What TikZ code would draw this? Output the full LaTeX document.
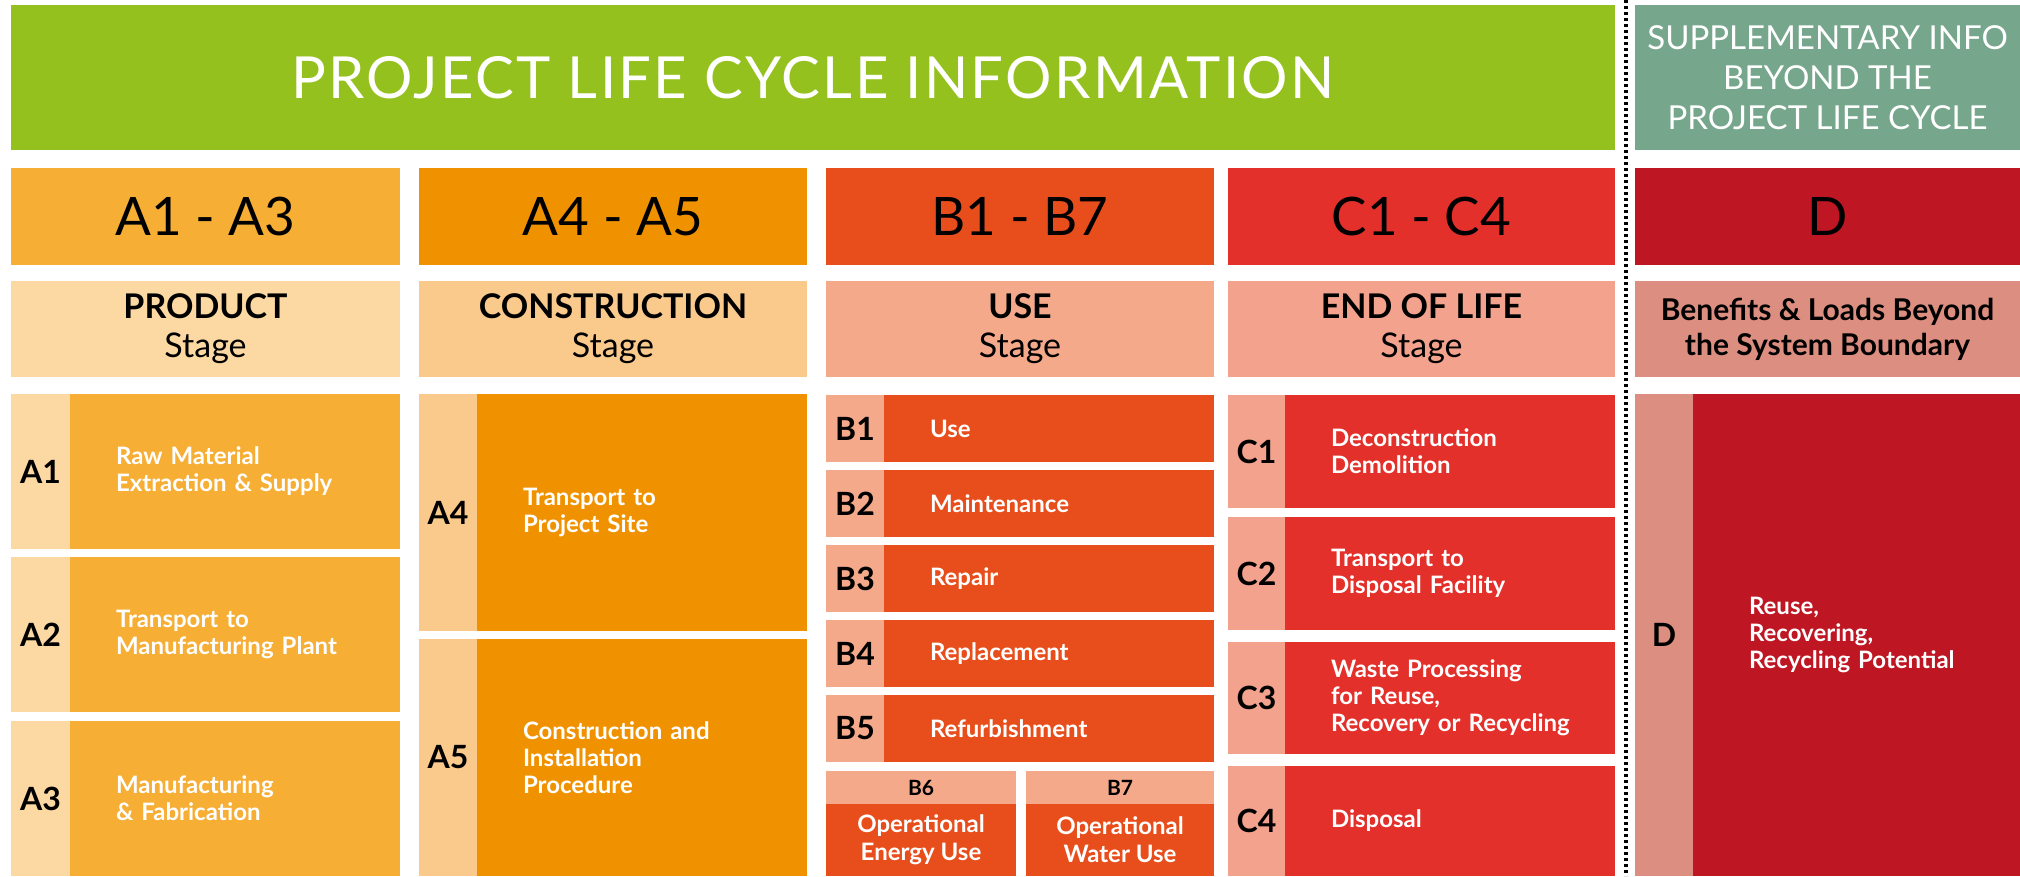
\documentclass[tikz,border=0pt]{standalone}
\usepackage{fontspec}
\setmainfont{Lato}
\usetikzlibrary{positioning}
\definecolor{lcgreen}{HTML}{95C11F}
\definecolor{suppgreen}{HTML}{76A68C}
\definecolor{prodorange}{HTML}{F6AE35}
\definecolor{prodlight}{HTML}{FCD8A2}
\definecolor{constorange}{HTML}{F09200}
\definecolor{constlight}{HTML}{FAC98C}
\definecolor{useorange}{HTML}{E84E1B}
\definecolor{uselight}{HTML}{F3A98A}
\definecolor{eolred}{HTML}{E3302A}
\definecolor{eollight}{HTML}{F2A28D}
\definecolor{bydred}{HTML}{BE1622}
\definecolor{bydlight}{HTML}{DC8E80}
\newcommand{\fsz}[2]{\fontsize{#1}{#2}\selectfont}

\begin{document}
\begin{tikzpicture}[x=1pt,y=-1pt,
    block/.style={anchor=north west,inner sep=0pt,outer sep=0pt,fill=#1},
    banner/.style={block=#1,text=white,align=center},
    head/.style={block=#1,font=\fsz{53}{60}},
    stagebox/.style={block=#1,font=\fsz{34}{39},align=center},
    code/.style={block=#1,font=\bfseries\fsz{32}{38}},
    desc/.style={block=#1,font=\bfseries\fsz{24}{27},text=white,align=left,inner xsep=46pt}]
     \fill[white] (0,0) rectangle (2020,876);
     \useasboundingbox (0,0) rectangle (2020,876);
     \node[banner=lcgreen,font=\fsz{58}{60}\addfontfeature{LetterSpace=4},minimum width=1604pt,minimum height=145pt] (plc) at (11,5) {PROJECT LIFE CYCLE INFORMATION};
     \node[banner=suppgreen,font=\fsz{33}{40},minimum width=385pt,minimum height=145pt] (supp) at (1635,5) {SUPPLEMENTARY INFO\\BEYOND THE\\PROJECT LIFE CYCLE};
     \foreach \nm/\x/\w/\dark/\light/\code/\title in {
       a/11/389/prodorange/prodlight/A1 - A3/PRODUCT,
       ac/419/388/constorange/constlight/A4 - A5/CONSTRUCTION,
       b/826/388/useorange/uselight/B1 - B7/USE,
       c/1228/387/eolred/eollight/C1 - C4/END OF LIFE}{
       \node[head=\dark,minimum width=\w pt,minimum height=97pt] (h\nm) at (\x,168) {\code};
       \node[stagebox=\light,minimum width=\w pt,minimum height=96pt] (s\nm) at (\x,281) {\textbf{\title}\\Stage};
     }
     \node[head=bydred,minimum width=385pt,minimum height=97pt] (hd) at (1635,168) {D};
     \node[stagebox=bydlight,font=\bfseries\fsz{30}{35},minimum width=385pt,minimum height=96pt] (sd) at (1635,281) {Benefits \& Loads Beyond\\the System Boundary};
     \foreach \i/\y/\txt in {1/394/{Raw Material\\Extraction \& Supply},
       2/557/{Transport to\\Manufacturing Plant},
       3/721/{Manufacturing\\\& Fabrication}}{
       \node[code=prodlight,minimum width=59pt,minimum height=155pt] (a\i) at (11,\y) {A\i};
       \node[desc=prodorange,text width=238pt,minimum height=155pt,right=0pt of a\i] (a\i txt) {\txt};
     }
     \node[code=constlight,minimum width=58pt,minimum height=237pt] (a4) at (419,394) {A4};
     \node[desc=constorange,text width=238pt,minimum height=237pt,right=0pt of a4] (a4txt) {Transport to\\Project Site};
     \node[code=constlight,minimum width=58pt,minimum height=237pt] (a5) at (419,639) {A5};
     \node[desc=constorange,text width=238pt,minimum height=237pt,right=0pt of a5] (a5txt) {Construction and\\Installation\\Procedure};
     \foreach \i/\txt [count=\r from 0] in {1/Use,2/Maintenance,3/Repair,4/Replacement,5/Refurbishment}{
       \node[code=uselight,minimum width=58pt,minimum height=67pt] (b\i) at (826,{395+75*\r}) {B\i};
       \node[desc=useorange,text width=238pt,minimum height=67pt,right=0pt of b\i] (b\i txt) {\txt};
     }
     \node[code=uselight,font=\bfseries\fsz{21}{24},minimum width=190pt,minimum height=33pt] (b6) at (826,771) {B6};
     \node[desc=useorange,inner xsep=0pt,align=center,font=\bfseries\fsz{24}{28},minimum width=190pt,minimum height=72pt,below=0pt of b6] (b6txt) {Operational\\Energy Use};
     \node[code=uselight,font=\bfseries\fsz{21}{24},minimum width=188pt,minimum height=33pt] (b7) at (1026,771) {B7};
     \node[desc=useorange,inner xsep=0pt,align=center,font=\bfseries\fsz{24}{28},minimum width=188pt,minimum height=72pt,below=0pt of b7] (b7txt) {Operational\\Water Use};
     \node[code=eollight,minimum width=57pt,minimum height=113pt] (c1) at (1228,395) {C1};
     \node[desc=eolred,text width=238pt,minimum height=113pt,right=0pt of c1] (c1txt) {Deconstruction\\Demolition};
     \node[code=eollight,minimum width=57pt,minimum height=113pt] (c2) at (1228,517) {C2};
     \node[desc=eolred,text width=238pt,minimum height=113pt,right=0pt of c2] (c2txt) {Transport to\\Disposal Facility};
     \node[code=eollight,minimum width=57pt,minimum height=112pt] (c3) at (1228,642) {C3};
     \node[desc=eolred,text width=238pt,minimum height=112pt,right=0pt of c3] (c3txt) {Waste Processing\\for Reuse,\\\mbox{Recovery or Recycling}};
     \node[code=eollight,minimum width=57pt,minimum height=110pt] (c4) at (1228,766) {C4};
     \node[desc=eolred,text width=238pt,minimum height=110pt,right=0pt of c4] (c4txt) {Disposal};
     \node[code=bydlight,minimum width=58pt,minimum height=482pt] (d) at (1635,394) {D};
     \node[desc=bydred,inner xsep=56pt,text width=215pt,minimum height=482pt,right=0pt of d] (dtxt) {Reuse,\\Recovering,\\Recycling Potential};
     \coordinate (divtop) at (1626,0);
     \coordinate (divbot) at (1626,876);
     \draw[line width=3.3pt,dash pattern=on 3pt off 3pt] (divtop) -- (divbot);
    \end{tikzpicture}
\end{document}
